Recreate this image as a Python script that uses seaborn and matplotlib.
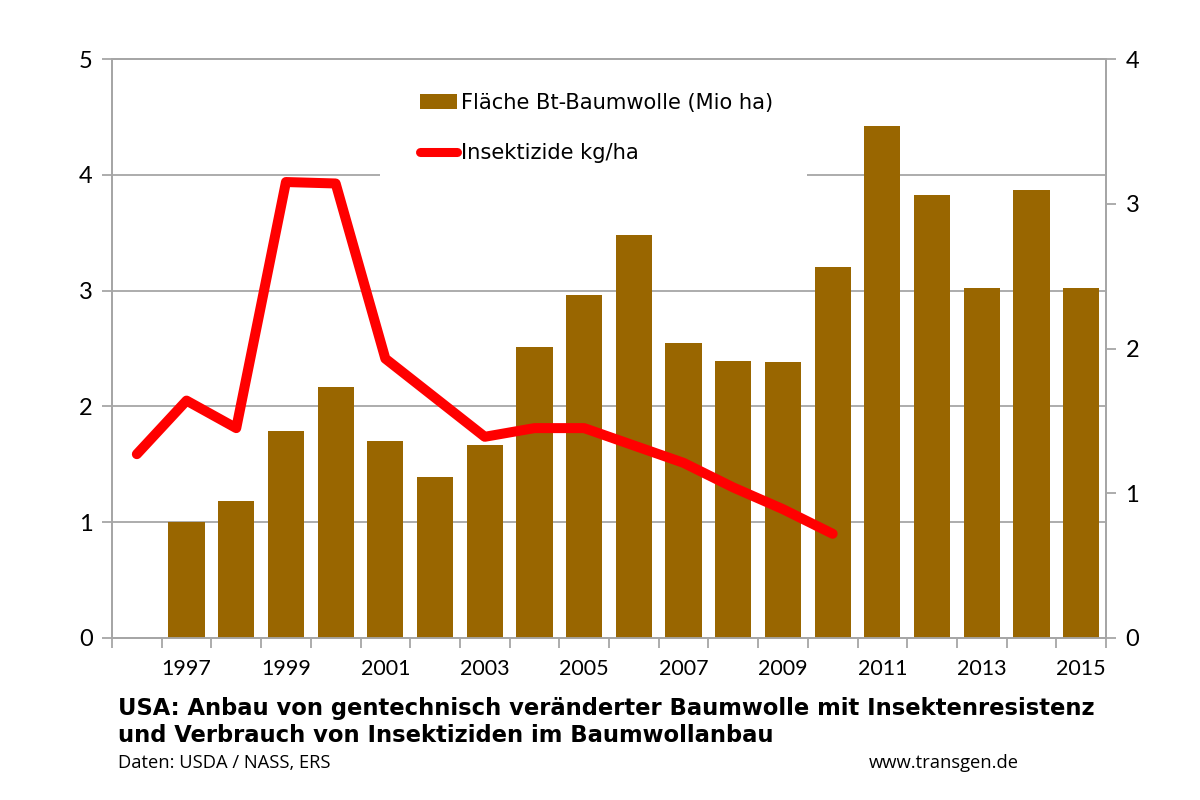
import matplotlib
matplotlib.use('Agg')
import matplotlib.pyplot as plt
from matplotlib.patches import Rectangle
import numpy as np
import pandas as pd
import seaborn as sns

sns.set_style('ticks')
plt.rcParams['font.family'] = ['Lato', 'DejaVu Sans']

# Fläche Bt-Baumwolle (Mio ha), left axis
area_years = [1997, 1998, 1999, 2000, 2001, 2002, 2003, 2004, 2005, 2006,
              2007, 2008, 2009, 2010, 2011, 2012, 2013, 2014, 2015]
area = [1.00, 1.18, 1.785, 2.17, 1.70, 1.39, 1.67, 2.51, 2.965, 3.48,
        2.55, 2.39, 2.38, 3.205, 4.42, 3.825, 3.02, 3.865, 3.02]

# Insektizide kg/ha, right axis
insect_years = [1996, 1997, 1998, 1999, 2000, 2001, 2002, 2003, 2004, 2005,
                2006, 2007, 2008, 2009, 2010]
insect = [1.27, 1.64, 1.45, 3.15, 3.14, 1.93, 1.66, 1.39, 1.45, 1.45,
          1.33, 1.21, 1.04, 0.89, 0.72]

left_ticks = [0, 1, 2, 3, 4, 5]
right_ticks = [0, 1, 2, 3, 4]
year_labels = [1997, 1999, 2001, 2003, 2005, 2007, 2009, 2011, 2013, 2015]

GREY = '#a6a6a6'
BROWN = '#996600'
RED = '#ff0000'

df_area = pd.DataFrame({'year': area_years, 'area': area})
df_insect = pd.DataFrame({'year': insect_years, 'insect': insect})

fig = plt.figure(figsize=(12, 8), dpi=100)
ax = fig.add_axes([112 / 1200, 1 - 638 / 800, 994 / 1200, 579 / 800])

sns.barplot(data=df_area, x='year', y='area', native_scale=True, color=BROWN,
            saturation=1, width=0.73, linewidth=0, ax=ax, zorder=3,
            label='Fläche Bt-Baumwolle (Mio ha)')
ax.get_legend().remove()
ax.set_xlim(1995.5, 2015.5)
ax.set_ylim(0, 5)
ax.set_yticks(left_ticks)
ax.set_xticks(year_labels)
ax.set_xticks(np.arange(1995.5, 2016), minor=True)
ax.set_xlabel('')
ax.set_ylabel('')
ax.yaxis.grid(True, color=GREY, lw=1.3)
ax.set_axisbelow(True)
ax.tick_params(axis='x', which='major', length=0, labelsize=15.5, pad=15, labelcolor='black')
ax.tick_params(axis='x', which='minor', length=7, width=1.3, color=GREY)
ax.tick_params(axis='y', length=7, width=1.3, color=GREY, labelsize=17, pad=7, labelcolor='black')

ax2 = ax.twinx()
sns.lineplot(data=df_insect, x='year', y='insect', color=RED, lw=7.2, ax=ax2,
             solid_joinstyle='round', solid_capstyle='round',
             label='Insektizide kg/ha', legend=False)
ax2.set_ylim(0, 4)
ax2.set_yticks(right_ticks)
ax2.set_ylabel('')
ax2.tick_params(axis='y', length=7, width=1.3, color=GREY, labelsize=17, pad=7, labelcolor='black')

for a in (ax, ax2):
    for side in a.spines:
        a.spines[side].set_color(GREY)
        a.spines[side].set_linewidth(1.3)
        a.spines[side].set_visible(True)

# white legend box hides the 4 gridline behind it
ax2.add_patch(Rectangle((380 / 1200, 1 - 180 / 800), 427 / 1200, 100 / 800,
                        transform=fig.transFigure, facecolor='white',
                        edgecolor='none', zorder=5, clip_on=False))

h1, l1 = ax.get_legend_handles_labels()
h2, l2 = ax2.get_legend_handles_labels()
leg = ax2.legend(h1 + h2, l1 + l2, loc='upper left',
                 bbox_to_anchor=(420 / 1200, 1 - 93 / 800),
                 bbox_transform=fig.transFigure, frameon=False,
                 prop={'family': 'DejaVu Sans', 'size': 15.1},
                 labelspacing=1.45, handlelength=1.76, handletextpad=0.2,
                 borderpad=0, borderaxespad=0, labelcolor='black')
leg.set_zorder(6)
leg.get_lines()[0].set_linewidth(6.5)

fig.text(118 / 1200, 1 - 708 / 800, 'USA: Anbau von gentechnisch veränderter Baumwolle mit Insektenresistenz',
         family='DejaVu Sans', weight='bold', size=16.3, va='center', color='black')
fig.text(118 / 1200, 1 - 736 / 800, 'und Verbrauch von Insektiziden im Baumwollanbau',
         family='DejaVu Sans', weight='bold', size=16.3, va='center', color='black')
fig.text(118 / 1200, 1 - 763 / 800, 'Daten: USDA / NASS, ERS', family='Open Sans',
         size=13.2, va='center', color='black')
fig.text(869 / 1200, 1 - 763 / 800, 'www.transgen.de', family='Open Sans',
         size=13.2, va='center', color='black')

fig.savefig('out.png', dpi=100)
